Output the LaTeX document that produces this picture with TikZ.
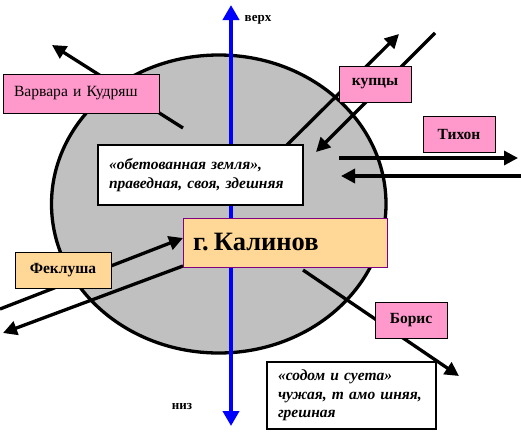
\documentclass[tikz,border=0pt]{standalone}
\usepackage{fontspec}
\setmainfont{Liberation Serif}
\usetikzlibrary{arrows.meta}
\definecolor{cgray}{RGB}{192,192,192}
\definecolor{cpink}{RGB}{255,153,204}
\definecolor{corange}{RGB}{255,216,152}
\definecolor{cpurple}{RGB}{128,0,128}
\begin{document}
\begin{tikzpicture}[x=1pt,y=-1pt,
  arr/.style={line width=3.3pt,-{Triangle[length=14pt,width=14pt]}},
  axisline/.style={line width=4pt,blue,-{Triangle[length=15pt,width=16pt]}},
  labelbox/.style={draw=black,line width=1pt,minimum width=72pt,minimum height=36pt,inner sep=0pt,font=\fontsize{15.5}{18}\selectfont\bfseries},
  pinkbox/.style={labelbox,fill=cpink},
  textbox/.style={draw=black,line width=2.5pt,fill=white,inner ysep=0pt,align=left,font=\fontsize{15.5}{18.5}\selectfont\bfseries\itshape},
  axislabel/.style={inner sep=0pt,font=\fontsize{13}{15}\selectfont\bfseries}]
\useasboundingbox (0,0) rectangle (521,434);
\fill[white] (0,0) rectangle (521,434);
% town circle
\filldraw[fill=cgray,draw=black,line width=3.3pt] (218.75,204) ellipse [x radius=167.25,y radius=149];
% coordinates
\coordinate (axT) at (231,5);
\coordinate (axB) at (231,426);
\coordinate (axC) at (231,215);
\coordinate (vkA) at (183,128);
\coordinate (vkB) at (52,45);
\coordinate (k1a) at (287,145);
\coordinate (k1b) at (399,34);
\coordinate (k2a) at (435,33);
\coordinate (k2b) at (316,152);
\coordinate (t1a) at (339,158);
\coordinate (t1b) at (518,158);
\coordinate (t2a) at (521,176);
\coordinate (t2b) at (341,176);
\coordinate (f1a) at (0,309);
\coordinate (f1b) at (183,238);
\coordinate (f2a) at (183,266);
\coordinate (f2b) at (3,333);
\coordinate (b1a) at (303,270);
\coordinate (b1b) at (459,376);
% axis
\draw[axisline] (axC) -- (axT);
\draw[axisline] (axC) -- (axB);
% arrows
\draw[arr] (vkA) -- (vkB);
\draw[arr] (k1a) -- (k1b);
\draw[arr] (k2a) -- (k2b);
\draw[arr] (t1a) -- (t1b);
\draw[arr] (t2a) -- (t2b);
\draw[arr] (f1a) -- (f1b);
\draw[arr] (f2a) -- (f2b);
\draw[arr] (b1a) -- (b1b);
% boxes
\node[pinkbox,minimum width=156pt,minimum height=39pt,text width=134pt,inner xsep=11pt,align=left,font=\fontsize{15.6}{18}\selectfont] (varvara) at (81,93.5) {Варвара и Кудряш};
\node[pinkbox] (kupcy) at (375,84) {купцы};
\node[pinkbox] (tikhon) at (459,134) {Тихон};
\node[pinkbox] (boris) at (411,320) {Борис};
\node[labelbox,fill=corange,minimum width=96pt] (feklusha) at (63,270) {Феклуша};
\node[textbox,minimum width=205pt,minimum height=60pt,text width=183pt,inner xsep=11pt] (promised) at (200.5,175) {«обетованная земля»,\\праведная, своя, здешняя};
\node[draw=cpurple,line width=1pt,fill=corange,minimum width=204pt,minimum height=49pt,text width=184pt,inner xsep=10pt,inner ysep=0pt,align=left,font=\fontsize{26.5}{30}\selectfont\bfseries] (kalinov) at (285,242.5) {г.\hspace{0.2em}Калинов};
\node[textbox,minimum width=169pt,minimum height=67pt,text width=147pt,inner xsep=11pt] (sodom) at (351.5,395.5) {«содом и суета»\\чужая, т амо шняя,\\грешная};
% axis labels
\node[axislabel] (up) at (258,20) {верх};
\node[axislabel] (down) at (182,406) {низ};
\end{tikzpicture}
\end{document}
